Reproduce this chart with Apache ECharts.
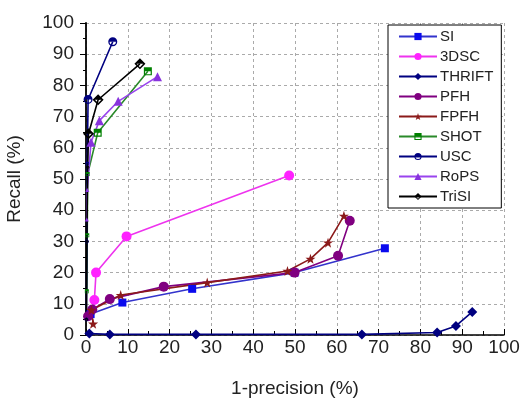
<!DOCTYPE html>
<html><head><meta charset="utf-8">
<script src="https://cdn.jsdelivr.net/npm/echarts@6/dist/echarts.min.js"></script>
<style>html,body{margin:0;padding:0;background:#fff}#c{width:525px;height:401px}</style>
</head><body><div id="c"></div>
<script>
// Data: [1-precision (%), recall (%)]
const seriesNames = ['SI','3DSC','THRIFT','PFH','FPFH','SHOT','USC','RoPS','TriSI'];
const siData = [[1.1,6.7],[8.7,10.4],[25.4,14.8],[49.9,20.0],[71.5,27.8]];
const dscData = [[2.0,11.2],[2.4,20.0],[9.7,31.6],[48.6,51.1]];
const thriftData = [[0.8,0.5],[5.7,0.2],[26.3,0.2],[66.0,0.2],[84.0,0.8],[88.5,2.9],[92.4,7.4]];
const pfhData = [[0.5,6.0],[1.5,8.2],[5.7,11.5],[18.6,15.5],[49.9,20.0],[60.3,25.4],[63.1,36.6]];
const fpfhData = [[1.7,3.6],[1.3,8.0],[8.3,12.8],[29.0,16.8],[48.2,20.5],[53.7,24.4],[57.9,29.6],[61.7,38.2]];
const shotData = [[0.2,14.0],[0.3,32.0],[0.4,51.6],[2.8,64.8],[14.8,84.5]];
const uscData = [[0.1,5.0],[0.2,30.0],[0.3,55.0],[0.5,75.5],[6.4,94.0]];
const ropsData = [[0.2,37.0],[0.3,46.5],[1.2,61.8],[3.2,68.7],[7.7,74.9],[17.1,82.8]];
const trisiData = [[0.1,5.0],[0.2,30.0],[0.4,53.8],[0.6,64.5],[2.9,75.4],[12.9,86.9]];
const xTicks = [0,10,20,30,40,50,60,70,80,90,100];
const yTicks = [0,10,20,30,40,50,60,70,80,90,100];

const halfCircle = 'path://M0,10 A10,10 0 1,1 20,10 A10,10 0 1,1 0,10 Z M3,10 A7,7 0 1,0 17,10 A7,7 0 1,0 3,10 Z M3,10 A7,7 0 0,1 17,10 Z';
const halfDiamond = 'path://M10,0 L20,10 L10,20 L0,10 Z M10,4 L4,10 L10,16 L16,10 Z M4,10 L10,4 L16,10 Z';
const halfSquare = 'path://M0,0 L20,0 L20,20 L0,20 Z M3,3 L3,17 L17,17 L17,3 Z M3,3 L17,3 L17,10 L3,10 Z';
const star = 'path://M10,0 L12.35,6.9 L19.5,6.9 L13.8,11.2 L15.9,18.1 L10,13.9 L4.1,18.1 L6.2,11.2 L0.5,6.9 L7.65,6.9 Z';

function mk(name, data, color, symbol, size, lineColor){
  return {
    name: name, type: 'line', data: data, symbol: symbol,
    symbolSize: function(v){ return v[0] < 0.5 ? 4 : size; },
    lineStyle: {color: lineColor || color, width: 1.6},
    itemStyle: {color: color, borderWidth: 0},
    emphasis: {disabled: true}, animation: false, z: 3
  };
}

const chart = echarts.init(document.getElementById('c'), null, {renderer: 'canvas'});
const font = 'Liberation Sans, Arial, sans-serif';
chart.setOption({
  backgroundColor: '#fff',
  animation: false,
  grid: {left: 86, right: 21, top: 23, bottom: 66, containLabel: false, outerBoundsMode: 'none'},
  xAxis: {
    type: 'value', min: 0, max: 100, interval: 10,
    name: '1-precision (%)', nameLocation: 'middle', nameGap: 44,
    nameTextStyle: {fontFamily: font, fontSize: 19, color: '#222'},
    axisLine: {show: true, onZero: false, lineStyle: {color: '#000', width: 1.5}},
    axisTick: {show: true, inside: true, length: 6, lineStyle: {color: '#000'}},
    minorTick: {show: true, splitNumber: 2, length: 4, lineStyle: {color: '#000'}},
    axisLabel: {fontFamily: font, fontSize: 19, color: '#222', margin: 3,
      formatter: v => xTicks.includes(v) ? String(v) : ''},
    splitLine: {show: true, lineStyle: {color: '#aaa', type: [3,3], width: 1}}
  },
  yAxis: {
    type: 'value', min: 0, max: 100, interval: 10,
    name: 'Recall (%)', nameLocation: 'middle', nameGap: 62,
    nameTextStyle: {fontFamily: font, fontSize: 19, color: '#222'},
    axisLine: {show: true, onZero: false, lineStyle: {color: '#000', width: 1.8}},
    axisTick: {show: true, inside: false, length: 6, lineStyle: {color: '#000'}},
    minorTick: {show: true, splitNumber: 2, length: 3, lineStyle: {color: '#000'}},
    axisLabel: {fontFamily: font, fontSize: 19, color: '#222', margin: 12,
      formatter: v => yTicks.includes(v) ? String(v) : ''},
    splitLine: {show: true, lineStyle: {color: '#aaa', type: [3,3], width: 1}}
  },
  legend: {
    orient: 'vertical', left: 388, top: 25,
    width: 110,
    backgroundColor: '#fff', borderColor: '#000', borderWidth: 1,
    padding: [4, 8, 4, 10], itemGap: 5, itemWidth: 38, itemHeight: 9,
    textStyle: {fontFamily: font, fontSize: 15, color: '#222', padding: [0,0,0,-2]},
    data: seriesNames
  },
  series: [
    mk('SI', siData, '#0a0aee', 'rect', 8, '#3333cc'),
    mk('3DSC', dscData, '#ff22ff', 'circle', 10, '#ee33ee'),
    mk('THRIFT', thriftData, '#000080', 'diamond', 10),
    mk('PFH', pfhData, '#800080', 'circle', 10),
    mk('FPFH', fpfhData, '#8b1a1a', star, 10),
    mk('SHOT', shotData, '#008000', halfSquare, 8, '#2a8a2a'),
    mk('USC', uscData, '#000080', halfCircle, 9),
    mk('RoPS', ropsData, '#8833dd', 'triangle', 9, '#9944ee'),
    mk('TriSI', trisiData, '#000000', halfDiamond, 11)
  ]
});
</script></body></html>
